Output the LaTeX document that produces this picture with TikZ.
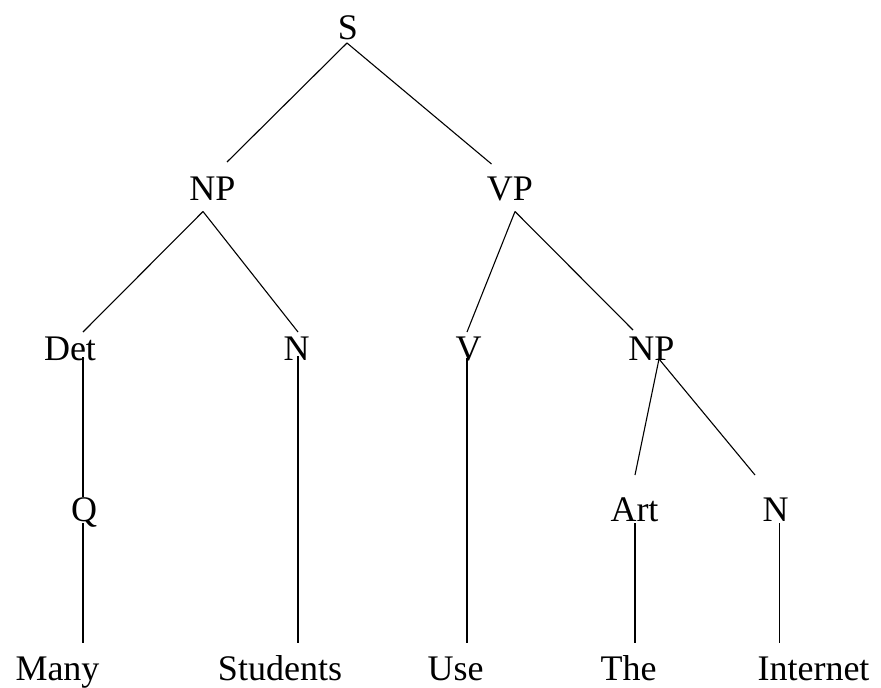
\documentclass[tikz,border=0pt]{standalone}
\usepackage{fontspec}
\setmainfont{Liberation Serif}
\begin{document}
\begin{tikzpicture}[x=1pt,y=-1pt,
  lbl/.style={anchor=base,inner sep=0pt,font=\fontsize{36}{40}\selectfont},
  edge/.style={draw=black,line width=1.1pt}]
\useasboundingbox (0,0) rectangle (881,688);
% labels
\node[lbl] (S) at (348,39) {S};
\node[lbl] (NP1) at (212.5,200) {NP};
\node[lbl] (VP) at (510,200) {VP};
\node[lbl] (Det) at (70,360) {Det};
\node[lbl] (N1) at (296.5,360) {N};
\node[lbl] (V) at (468.5,360) {V};
\node[lbl] (NP2) at (651.5,360) {NP};
\node[lbl] (Q) at (84,521) {Q};
\node[lbl] (Art) at (634.5,521) {Art};
\node[lbl] (N2) at (775.5,521) {N};
\node[lbl] (Many) at (57.5,680) {Many};
\node[lbl] (Students) at (280,680) {Students};
\node[lbl] (Use) at (455.5,680) {Use};
\node[lbl] (The) at (628.5,680) {The};
\node[lbl] (Internet) at (813.5,680) {Internet};
% connector end points
\coordinate (Sb) at (347,43);
\coordinate (NP1t) at (227,162);
\coordinate (VPt) at (491.5,164);
\coordinate (NP1b) at (203,211.5);
\coordinate (VPb) at (515,211.5);
\coordinate (Dett) at (83,332);
\coordinate (N1t) at (298,332);
\coordinate (Vt) at (467,332);
\coordinate (NP2t) at (633,330);
\coordinate (Detb) at (83,357);
\coordinate (N1b) at (298,356);
\coordinate (Vb) at (467,358);
\coordinate (NP2b) at (659,359);
\coordinate (Qt) at (83,497);
\coordinate (Artt) at (635,475);
\coordinate (N2t) at (755,475);
\coordinate (Qb) at (83,523);
\coordinate (Artb) at (635,523);
\coordinate (N2b) at (779.5,523);
\coordinate (Manyt) at (83,643);
\coordinate (Studentst) at (298,643);
\coordinate (Uset) at (467,643);
\coordinate (Thet) at (635,643);
\coordinate (Internett) at (779.5,643);
% connectors
\draw[edge] (Sb) -- (NP1t);
\draw[edge] (Sb) -- (VPt);
\draw[edge] (NP1b) -- (Dett);
\draw[edge] (NP1b) -- (N1t);
\draw[edge] (VPb) -- (Vt);
\draw[edge] (VPb) -- (NP2t);
\draw[edge] (Detb) -- (Qt);
\draw[edge] (Qb) -- (Manyt);
\draw[edge] (N1b) -- (Studentst);
\draw[edge] (Vb) -- (Uset);
\draw[edge] (NP2b) -- (Artt);
\draw[edge] (NP2b) -- (N2t);
\draw[edge] (Artb) -- (Thet);
\draw[edge] (N2b) -- (Internett);
\end{tikzpicture}
\end{document}
